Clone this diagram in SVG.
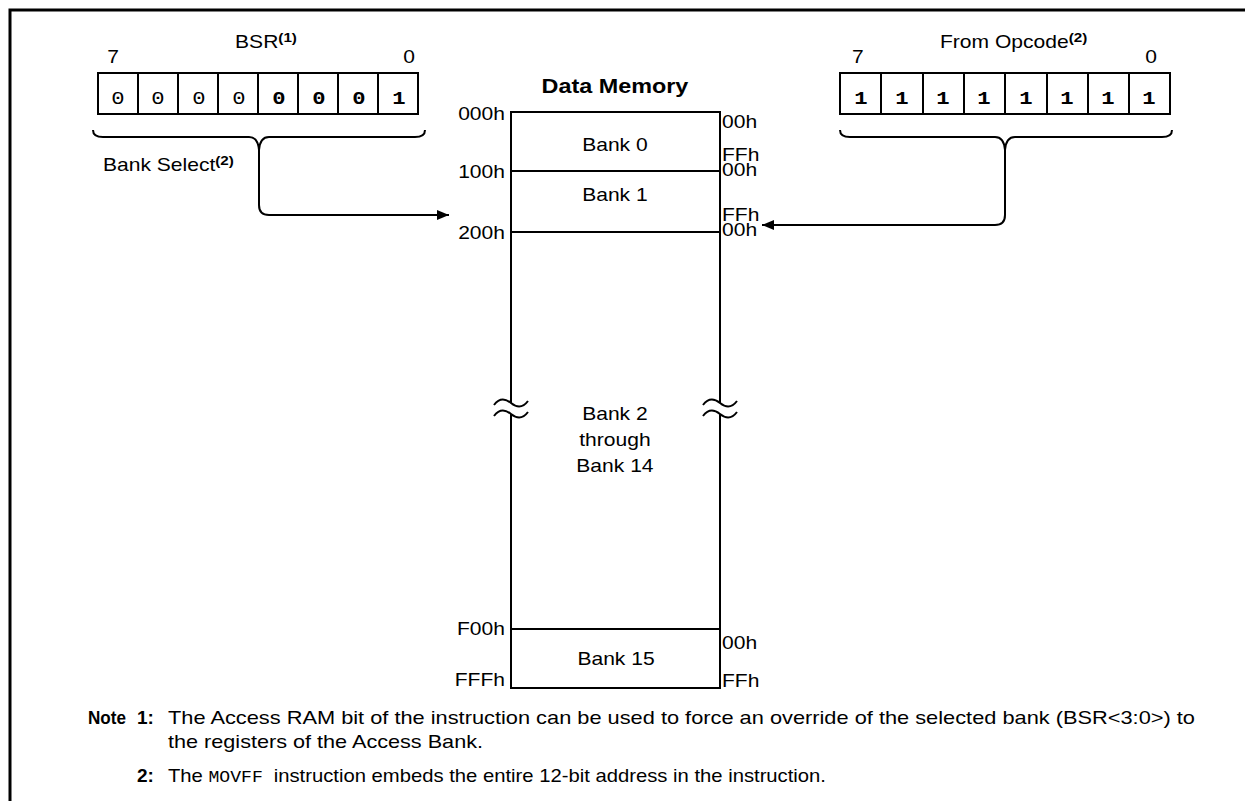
<svg xmlns="http://www.w3.org/2000/svg" width="1245" height="801" viewBox="0 0 1245 801">
<defs>
<marker id="ah" viewBox="0 0 12 10" refX="12" refY="5" markerWidth="12" markerHeight="10" markerUnits="userSpaceOnUse" orient="auto">
<path d="M0,0 L12,5 L0,10 Z" fill="#000"/>
</marker>
<style>
.ln{fill:none;stroke:#000;stroke-width:2}
.fr{fill:none;stroke:#000;stroke-width:3}
.cell{fill:#fff;stroke:#000;stroke-width:2}
.t{font-family:"Liberation Sans",Arial,sans-serif;font-size:18px;fill:#000}
.n{font-family:"Liberation Sans",Arial,sans-serif;font-size:19px;fill:#000}
.b{font-weight:bold}
.c{text-anchor:middle}
.e{text-anchor:end}
.m{font-family:"Liberation Mono","Courier New",monospace;font-size:19px;fill:#000}
.sup{font-size:13px;font-weight:bold}
</style>
</defs>
<rect width="1245" height="801" fill="#fff"/>
<path class="fr" d="M10,801 L10,10 L1245,10"/>

<g id="bsr">
<rect class="cell" x="98" y="73" width="320" height="41"/>
<path class="ln" d="M138,73V114M178,73V114M218,73V114M258,73V114M298,73V114M338,73V114M378,73V114"/>
<path class="ln" d="M93,130 Q93,137 103,137 L249,137 Q258,137 259,150 Q260,137 269,137 L415,137 Q425,137 425,130"/>
<g transform="scale(1.17 1)">
<text class="t" x="200.9" y="48">BSR<tspan class="sup" dy="-6">(1)</tspan></text>
<text class="t c" x="96.6" y="63">7</text>
<text class="t c" x="349.6" y="63">0</text>
<text class="m c" x="100.9" y="104">0</text>
<text class="m c" x="135.0" y="104">0</text>
<text class="m c" x="170.1" y="104">0</text>
<text class="m c" x="204.3" y="104">0</text>
<text class="m c b" x="238.5" y="104">0</text>
<text class="m c b" x="272.6" y="104">0</text>
<text class="m c b" x="306.8" y="104">0</text>
<text class="m c b" x="341.0" y="104">1</text>
<text class="t" x="88" y="171">Bank Select<tspan class="sup" dy="-6">(2)</tspan></text>
</g>
</g>

<g id="opcode">
<rect class="cell" x="840" y="73" width="330" height="41"/>
<path class="ln" d="M881,73V114M923,73V114M964,73V114M1005,73V114M1047,73V114M1088,73V114M1129,73V114"/>
<path class="ln" d="M840,130 Q840,137 850,137 L995,137 Q1004,137 1005,150 Q1006,137 1015,137 L1162,137 Q1172,137 1172,130"/>
<g transform="scale(1.17 1)">
<text class="t" x="803.4" y="48">From Opcode<tspan class="sup" dy="-6">(2)</tspan></text>
<text class="t c" x="733.3" y="63">7</text>
<text class="t c" x="983.8" y="63">0</text>
<text class="m c b" x="735.9" y="104">1</text>
<text class="m c b" x="770.9" y="104">1</text>
<text class="m c b" x="806.0" y="104">1</text>
<text class="m c b" x="841.0" y="104">1</text>
<text class="m c b" x="876.9" y="104">1</text>
<text class="m c b" x="912.0" y="104">1</text>
<text class="m c b" x="947.0" y="104">1</text>
<text class="m c b" x="982.1" y="104">1</text>
</g>
</g>

<g id="memory">
<path class="ln" d="M511,403 V112 H720 V403 M511,414 V688 H720 V414 M511,171 H720 M511,232 H720 M511,629 H720"/>
<path class="ln" stroke-width="1.5" d="M494,405 C500,397 506,399 511,403 C516,407 522,409 528,401 M494,416 C500,408 506,410 511,414 C516,418 522,420 528,412"/>
<path class="ln" stroke-width="1.5" d="M703,405 C709,397 715,399 720,403 C725,407 731,409 737,401 M703,416 C709,408 715,410 720,414 C725,418 731,420 737,412"/>
<g transform="scale(1.17 1)">
<text class="t b c" style="font-size:20px" x="525.6" y="93">Data  Memory</text>
<text class="t e" x="431.6" y="120">000h</text>
<text class="t e" x="431.6" y="178">100h</text>
<text class="t e" x="431.6" y="239">200h</text>
<text class="t e" x="431.6" y="635">F00h</text>
<text class="t e" x="431.6" y="686">FFFh</text>
<text class="t" x="617.1" y="128">00h</text>
<text class="t" x="617.1" y="161">FFh</text>
<text class="t" x="617.1" y="176">00h</text>
<text class="t" x="617.1" y="221">FFh</text>
<text class="t" x="617.1" y="236">00h</text>
<text class="t" x="617.1" y="649">00h</text>
<text class="t" x="617.1" y="687">FFh</text>
<text class="t c" x="525.6" y="151">Bank 0</text>
<text class="t c" x="525.6" y="201">Bank 1</text>
<text class="t c" x="525.6" y="420">Bank 2</text>
<text class="t c" x="525.6" y="446">through</text>
<text class="t c" x="525.6" y="472">Bank 14</text>
<text class="t c" x="526.5" y="665">Bank 15</text>
</g>
</g>

<g id="connectors">
<path class="ln" marker-end="url(#ah)" d="M259,150 L259,205 Q259,215 269,215 L449,215"/>
<path class="ln" marker-end="url(#ah)" d="M1005,150 L1005,215 Q1005,225 995,225 L762,225"/>
</g>

<g id="notes">
<text class="n b" x="88" y="724" textLength="38" lengthAdjust="spacingAndGlyphs">Note</text>
<text class="n b" x="137" y="724">1:</text>
<text class="n" x="168" y="724" textLength="1027" lengthAdjust="spacingAndGlyphs">The Access RAM bit of the instruction can be used to force an override of the selected bank (BSR&lt;3:0&gt;) to</text>
<text class="n" x="168" y="748" textLength="315" lengthAdjust="spacingAndGlyphs">the registers of the Access Bank.</text>
<text class="n b" x="137" y="782">2:</text>
<text class="n" x="168" y="782" textLength="658" lengthAdjust="spacingAndGlyphs">The <tspan style="font-family:'Liberation Mono','Courier New',monospace;font-size:17px"> MOVFF </tspan> instruction embeds the entire 12-bit address in the instruction.</text>
</g>
</svg>
